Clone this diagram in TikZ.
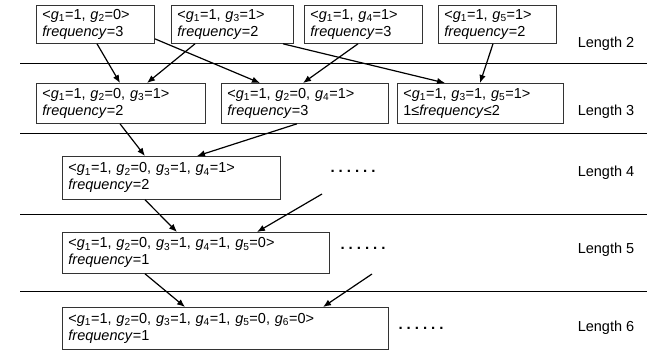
\documentclass[tikz,border=0pt]{standalone}
\usepackage{fontspec}
\setmainfont{Liberation Sans}
\usetikzlibrary{arrows.meta}

\newcommand{\gsub}[1]{\textit{g}\textsubscript{#1}}
\newcommand{\freq}{\textit{frequency}}
\newcommand{\moredots}{.\hspace{4pt}.\hspace{4pt}.\hspace{4pt}.\hspace{4pt}.\hspace{4pt}.}

\tikzset{
  itembox/.style={draw=black!80, line width=0.8pt, anchor=north west, align=left,
    inner xsep=6pt, inner ysep=0pt, font=\fontsize{14.5}{17}\selectfont},
  lenlabel/.style={font=\fontsize{14.5}{17}\selectfont},
  dots/.style={font=\fontsize{15}{17}\selectfont\bfseries},
  sep/.style={line width=0.8pt},
  link/.style={line width=1.2pt, -{Latex[length=8pt,width=6.5pt]}}
}

\begin{document}
\begin{tikzpicture}[x=1pt, y=-1pt]
  \useasboundingbox (0,0) rectangle (655,354);

  % length 2
  \node[itembox, text width=106pt, minimum height=38pt] (a) at (36,5) {<\gsub1=1, \gsub2=0>\\\freq=3};
  \node[itembox, text width=110pt, minimum height=38pt] (b) at (171,5) {<\gsub1=1, \gsub3=1>\\\freq=2};
  \node[itembox, text width=106pt, minimum height=38pt] (c) at (304,5) {<\gsub1=1, \gsub4=1>\\\freq=3};
  \node[itembox, text width=106pt, minimum height=38pt] (d) at (438,5) {<\gsub1=1, \gsub5=1>\\\freq=2};

  % length 3
  \node[itembox, text width=157pt, minimum height=40pt] (e) at (36,83) {<\gsub1=1, \gsub2=0, \gsub3=1>\\\freq=2};
  \node[itembox, text width=155pt, minimum height=40pt] (f) at (221,83) {<\gsub1=1, \gsub2=0, \gsub4=1>\\\freq=3};
  \node[itembox, text width=154pt, minimum height=40pt] (g) at (397,83) {<\gsub1=1, \gsub3=1, \gsub5=1>\\1≤\freq≤2};

  % length 4
  \node[itembox, text width=206pt, minimum height=43pt] (h) at (62,156) {<\gsub1=1, \gsub2=0, \gsub3=1, \gsub4=1>\\\freq=2};
  % length 5
  \node[itembox, text width=255pt, minimum height=41pt] (i) at (62,232) {<\gsub1=1, \gsub2=0, \gsub3=1, \gsub4=1, \gsub5=0>\\\freq=1};
  % length 6
  \node[itembox, text width=314pt, minimum height=42pt] (j) at (62,307) {<\gsub1=1, \gsub2=0, \gsub3=1, \gsub4=1, \gsub5=0, \gsub6=0>\\\freq=1};

  \node[dots] (dots4) at (353,171) {\moredots};
  \node[dots] (dots5) at (363,248) {\moredots};
  \node[dots] (dots6) at (421,328) {\moredots};

  \node[lenlabel] (len2) at (606,44) {Length 2};
  \node[lenlabel] (len3) at (606,112) {Length 3};
  \node[lenlabel] (len4) at (606,173) {Length 4};
  \node[lenlabel] (len5) at (606,250) {Length 5};
  \node[lenlabel] (len6) at (606,328) {Length 6};

  \draw[sep] (20,63) -- (647,63);
  \draw[sep] (20,133) -- (647,133);
  \draw[sep] (20,214) -- (647,214);
  \draw[sep] (20,291) -- (647,291);

  \coordinate (from4) at (322,194);
  \coordinate (from5) at (372,274);

  \draw[link] ([xshift=61pt]a.south west) -- ([xshift=84pt]e.north west);
  \draw[link] ([xshift=24pt]b.south west) -- ([xshift=111pt]e.north west);
  \draw[link] ([yshift=5pt]a.south east) -- ([xshift=39pt]f.north west);
  \draw[link] ([xshift=112pt]b.south west) -- ([xshift=48pt]g.north west);
  \draw[link] ([xshift=54pt]c.south west) -- ([xshift=82pt]f.north west);
  \draw[link] ([xshift=55pt]d.south west) -- ([xshift=83pt]g.north west);
  \draw[link] ([xshift=84pt]e.south west) -- ([xshift=83pt]h.north west);
  \draw[link] ([xshift=76pt]f.south west) -- ([xshift=135pt]h.north west);
  \draw[link] ([xshift=83pt]h.south west) -- ([xshift=115pt]i.north west);
  \draw[link] (from4) -- ([xshift=195pt]i.north west);
  \draw[link] ([xshift=83pt]i.south west) -- ([xshift=123pt]j.north west);
  \draw[link] (from5) -- ([xshift=261pt]j.north west);
\end{tikzpicture}
\end{document}
